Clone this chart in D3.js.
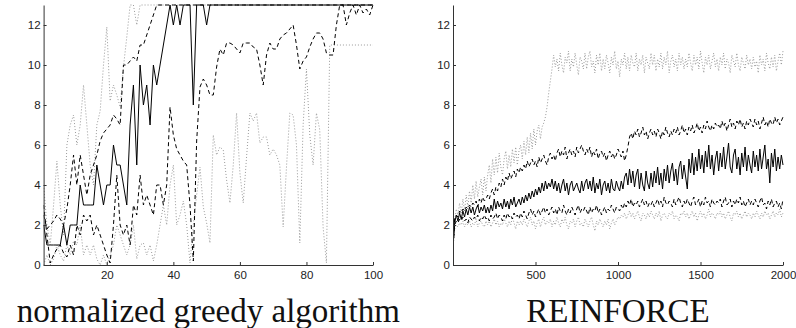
<!DOCTYPE html>
<html lang="en">
<head>
<meta charset="UTF-8">
<title>normalized greedy algorithm vs REINFORCE</title>
<style>
  body { margin: 0; background: #fff; }
  .axis text { font-family: "Liberation Sans", Arial, sans-serif; font-size: 11.5px; fill: #222; }
  .axis path, .axis line { stroke: #333; }
  .title { font-family: "Liberation Serif", "Times New Roman", serif; font-size: 33px; fill: #111; }
</style>
</head>
<body>
<svg width="796" height="328"></svg>
<script src="https://d3js.org/d3.v7.min.js"></script>
<script>
// ticks
var yTicks = [0, 2, 4, 6, 8, 10, 12];
var greedyTicks = [20, 40, 60, 80, 100];
var reinforceTicks = [500, 1000, 1500, 2000];

// left panel, one value per step 1..100
var greedySolid = [2,1,1,1,1,1,2,1,2,2, 2,4,3,3,3,3,5,4,3,4, 4,6,5,5,4,3,7,9,5,10,
  8,9,7,10,9,10,11,12,13,12, 13,12,13,13,13,8,13,13,13,12,
  13,13,13,13,13,13,13,13,13,13, 13,13,13,13,13,13,13,13,13,13,
  13,13,13,13,13,13,13,13,13,13, 13,13,13,13,13,13,13,13,13,13,
  13,13,13,13,13,13,13,13,13,13];
var greedyDashHi = [2.5,1.8,2,2.2,2.5,2.3,2,2.8,4,5.5, 4,5.5,4.5,3.5,4.5,5,5.5,6.2,6.6,6.8,
  7,7.5,7.3,7,10,10,10.2,10.4,10.2,11, 11,11.5,12,12.5,13,13,13,13,13,13,
  13,13,13,13,13,13,13,13,13,13, 13,13,13,13,13,13,13,13,13,13,
  13,13,13,13,13,13,13,13,13,13, 13,13,13,13,13,13,13,13,13,13,
  13,13,13,13,13,13,13,13,13,13, 13,13,13,13,13,13,13,13,13,13];
var greedyDashLo = [3,1.5,0.1,0.5,0.8,1,0.6,0.4,1,0.5, 2,1.5,2.5,2.2,2.5,1.5,2,1.5,1,0.5,
  0.1,2,4.5,2,1.5,2,1,3,2.5,4.5, 3,3.5,3,2.5,4,4,3,4,7.9,6.5,
  5.8,5.5,5.2,5,3,0.2,6.2,8.9,9.3,9, 8.5,8.5,9.9,10.8,10.5,11.1,11.1,11,10.8,10.6,
  11.1,11.1,11.1,10.9,10.8,10,9,10.5,11.1,10.8, 10.8,11.3,11.5,11.6,11.8,12,11,9.8,10.2,10.4,
  10.9,11.3,11.6,11.6,11.3,10.6,10.5,10.5,12,13, 13,12,12.6,13,12.5,13,12.6,12.8,12.5,13];
var greedyDotHi = [4,2,1,3,5.2,3,1.5,6,7,7.5, 6,7,9,7,5,4,7,7.7,10,11.9,
  8.2,9,8.5,7.9,9.9,11.4,13,13,12,13, 13,13,13,13,13,13,13,13,13,13,
  13,13,13,13,13,13,13,13,13,13, 13,13,13,13,13,13,13,13,13,13,
  13,13,13,13,13,13,13,13,13,13, 13,13,13,13,13,13,13,13,13,13,
  13,13,13,13,13,13,13,13,13,13, 13,13,13,13,13,13,13,13,13,13];
var greedyDotLo = [0,0.5,0,0.3,1,0.5,0.2,1,0.5,1.2, 1,2,0.5,1,0.5,1,0.3,0,0.5,0,
  0.5,1,2,1.5,1,0.5,1,2,0.3,1, 1.1,0.5,1,0.2,1,2,3,2,4,5,
  2,2.5,3.2,2,0.1,2,3.5,4.9,2.9,2.1, 1.1,6.5,5.5,5.9,5.75,4.25,3.1,5,7.6,4.6,
  3.1,5.4,7.6,7.2,7.6,6.1,6.4,6.4,5.5,5.8, 5.5,5,1.9,4.9,7.6,7.5,6,1.1,7,9.8,
  6.5,5,7.6,6.75,1.9,0.1,11,11,11,11, 11,11,11,11,11,11,11,11,11,11];

// right panel, first value at episode 1, then every 10 episodes
var reinforceStep = 10;
var reinforceDotHi = [1.2,
  2.2,2.8,2.5,3.1,2.6,3.3,2.7,3.5,2.9,3.7, 3.1,4.0,3.3,4.2,3.4,3.9,4.3,3.5,4.4,3.7,
  4.5,5.0,4.1,5.3,4.5,5.4,4.6,5.6,4.9,4.5, 5.3,5.7,4.8,5.5,4.9,5.8,5.1,5.9,5.0,5.7,
  6.0,5.3,6.2,5.5,6.4,5.6,6.6,5.8,6.8,6.0, 6.7,7.0,6.3,6.9,7.1,7.4,7.9,8.6,9.2,9.8,
  10.5,9.9,10.3,9.7,10.6,10.0,9.6,10.4,10.1,10.7, 9.7,10.3,9.9,10.6,10.0,9.5,10.4,10.2,9.8,10.6,
  9.8,10.4,10.7,9.9,10.2,9.6,10.5,10.0,10.6,9.7, 10.3,9.8,10.5,10.1,9.6,10.4,10.0,10.7,9.8,10.2,
  9.4,10.3,10.0,10.6,9.8,10.4,9.7,10.5,10.1,9.9, 10.6,9.7,10.3,10.0,10.5,9.6,10.4,10.1,9.8,10.6,
  10.0,10.5,9.7,10.3,9.9,10.6,9.8,10.4,10.0,10.7, 9.6,10.2,10.5,9.9,10.3,9.7,10.6,10.0,10.4,9.8,
  10.3,9.9,10.6,10.1,9.7,10.5,10.0,10.4,9.8,10.7, 10.1,9.6,10.4,10.0,10.5,9.8,10.2,10.6,9.9,10.3,
  9.7,10.4,10.0,10.6,9.8,10.3,10.1,9.6,10.5,10.2, 9.9,10.6,10.0,9.7,10.4,10.1,9.8,10.5,10.0,10.3,
  9.8,10.4,9.9,10.2,9.6,10.5,10.0,10.3,9.7,10.6, 10.1,9.8,10.4,9.9,10.5,9.7,10.2,10.6,10.0,10.7];
var reinforceDashHi = [1.1,
  2.3,2.5,2.4,2.7,2.6,2.8,2.7,2.9,2.8,3.0, 2.9,3.1,3.0,3.2,2.9,3.3,3.1,3.4,3.2,3.3,
  3.5,3.3,3.6,3.8,3.5,3.9,3.7,4.1,3.9,4.3, 4.0,4.4,4.2,4.6,4.3,4.5,4.7,4.4,4.8,4.6,
  4.9,4.7,5.0,4.8,5.2,4.9,5.1,5.3,5.0,5.2, 4.9,5.4,5.1,5.3,5.5,5.2,5.0,5.4,5.6,5.3,
  5.5,5.2,5.6,5.8,5.4,5.7,5.5,5.9,5.3,5.6, 5.8,5.5,5.7,5.4,5.9,5.6,5.8,6.0,5.7,5.5,
  5.8,5.6,5.9,5.4,5.7,5.5,5.8,5.3,5.6,5.7, 5.4,5.6,5.2,5.5,5.7,5.4,5.6,5.3,5.5,5.8,
  5.6,5.4,5.7,5.2,5.5,5.9,6.4,6.6,6.3,6.7, 6.5,6.8,6.4,6.6,6.9,6.5,6.7,6.3,6.6,6.8,
  6.5,6.7,6.4,6.8,6.6,6.3,6.7,6.5,6.9,6.6, 6.4,6.7,6.5,6.8,6.6,6.9,6.5,6.7,7.0,6.6,
  6.8,6.5,6.9,6.7,7.0,6.6,6.8,7.1,6.7,6.9, 6.6,7.0,6.8,7.2,6.9,6.7,7.0,6.8,7.1,6.9,
  7.0,6.8,7.2,6.9,7.1,6.7,7.0,7.3,6.9,7.1, 6.8,7.2,7.0,7.3,6.9,7.1,6.8,7.2,7.0,7.3,
  7.1,6.9,7.3,7.0,7.2,6.8,7.1,7.4,7.0,7.2, 6.9,7.3,7.1,7.0,7.4,7.1,7.3,7.0,7.2,7.4];
var reinforceSolid = [1.0,
  2.1,2.5,2.2,2.6,2.3,2.7,2.4,2.8,2.5,2.9, 2.6,2.9,2.5,2.8,3.0,2.6,2.9,2.7,3.0,2.6,
  2.9,2.6,3.0,2.7,3.3,2.8,3.2,2.9,3.1,2.8, 3.3,2.9,3.2,2.8,3.3,3.0,3.4,2.9,3.1,3.3,
  3.0,3.4,3.1,3.5,3.2,3.6,3.3,3.7,3.4,3.8, 3.5,3.9,3.6,4.1,3.7,4.2,3.8,4.1,3.9,4.3,
  3.8,4.2,3.7,4.1,3.6,4.0,4.3,3.7,4.1,3.5, 4.0,4.2,3.7,3.9,4.1,3.8,3.6,4.2,3.7,4.1,
  4.3,3.8,4.2,3.7,4.4,3.6,4.1,3.8,4.3,3.5, 4.0,4.2,3.7,4.1,3.6,4.3,3.8,3.7,4.2,3.9,
  3.7,4.2,3.8,4.4,4.6,4.0,4.8,4.1,4.7,3.9, 4.5,4.8,3.8,4.6,4.0,3.7,4.7,4.1,3.8,4.6,
  3.9,4.7,4.1,4.9,4.0,4.6,3.8,4.8,4.2,5.0, 4.1,4.7,5.1,4.2,4.8,4.0,4.9,5.2,4.3,5.0,
  4.4,3.8,5.3,4.6,5.6,4.5,5.4,4.7,5.8,4.8, 5.5,4.6,5.7,4.9,6.0,4.8,5.5,4.5,5.3,5.7,
  4.7,5.6,4.9,5.9,4.8,5.4,6.1,4.9,4.6,5.5, 5.8,4.8,5.4,4.5,5.6,4.9,5.9,4.7,5.5,5.0,
  4.6,5.7,4.9,5.5,4.7,5.8,4.8,5.4,6.0,4.8, 5.3,4.1,5.6,4.9,5.8,4.7,5.4,4.8,5.5,5.0];
var reinforceDashLo = [1.0,
  2.0,2.2,2.1,2.3,2.2,2.4,2.2,2.3,2.1,2.4, 2.3,2.2,2.4,2.3,2.5,2.2,2.4,2.3,2.5,2.3,
  2.4,2.2,2.5,2.3,2.4,2.6,2.3,2.5,2.4,2.2, 2.5,2.3,2.6,2.4,2.5,2.3,2.6,2.4,2.5,2.3,
  2.6,2.4,2.7,2.5,2.3,2.6,2.8,2.5,2.7,2.4, 2.6,2.8,2.5,2.7,2.9,2.6,2.8,2.5,2.7,2.9,
  2.6,2.8,2.5,2.9,2.7,2.6,3.0,2.7,2.5,2.8, 2.6,2.9,2.7,2.5,2.8,3.0,2.6,2.8,2.7,2.9,
  2.7,2.5,2.9,2.6,2.8,2.7,3.0,2.6,2.8,2.5, 2.7,2.9,2.6,2.8,2.7,3.0,2.8,2.6,2.9,2.8,
  2.7,3.0,2.8,3.1,2.9,3.2,3.0,3.3,2.9,3.1, 3.0,3.2,2.9,3.1,3.3,3.0,3.2,2.9,3.1,3.0,
  3.2,2.9,3.1,3.3,3.0,3.2,2.9,3.4,3.1,3.0, 3.2,3.1,2.9,3.3,3.0,3.2,3.4,3.1,2.9,3.2,
  3.0,3.3,3.1,2.9,3.2,3.4,3.0,3.1,3.3,2.9, 3.2,3.0,3.4,3.1,3.2,2.9,3.3,3.1,3.0,3.2,
  3.1,3.3,2.9,3.2,3.4,3.0,3.1,3.3,2.9,3.2, 3.0,3.3,3.1,3.4,3.0,3.2,2.9,3.1,3.3,3.0,
  3.2,3.0,3.3,3.1,2.9,3.2,3.4,3.0,3.1,2.8, 3.2,3.0,3.3,2.9,3.1,3.2,2.9,3.1,2.8,3.3];
var reinforceDotLo = [0.9,
  1.8,2.0,1.9,2.1,2.0,2.2,1.9,2.1,2.0,2.2, 1.9,2.1,2.0,2.3,1.9,2.1,2.2,2.0,1.9,2.2,
  2.0,2.2,1.9,2.1,2.3,2.0,2.2,1.9,2.1,2.0, 2.3,2.1,1.9,2.2,2.0,2.4,2.1,1.8,2.2,2.0,
  2.2,2.0,2.3,2.1,1.9,2.2,2.4,2.0,2.2,1.8, 2.1,2.3,1.9,2.2,2.4,2.0,2.2,2.1,2.3,1.9,
  2.2,2.0,2.4,2.1,1.9,2.3,2.1,2.4,2.0,1.8, 2.2,2.1,2.3,1.9,2.2,2.4,2.0,2.1,1.9,2.3,
  2.1,1.9,2.2,2.4,2.0,1.7,2.2,2.0,2.3,2.1, 1.9,2.2,2.0,2.3,1.8,2.1,2.3,2.0,2.2,2.4,
  2.3,2.5,2.4,2.6,2.3,2.5,2.7,2.4,2.6,2.3, 2.5,2.7,2.4,2.2,2.6,2.5,2.3,2.6,2.4,2.7,
  2.5,2.3,2.6,2.4,2.7,2.2,2.5,2.6,2.4,2.3, 2.6,2.5,2.7,2.3,2.5,2.4,2.2,2.6,2.5,2.7,
  2.4,2.6,2.3,2.5,2.7,2.4,2.6,2.2,2.5,2.7, 2.4,2.6,2.3,2.5,2.8,2.4,2.6,2.5,2.3,2.6,
  2.5,2.7,2.4,2.6,2.3,2.5,2.7,2.4,2.2,2.6, 2.5,2.7,2.4,2.6,2.3,2.5,2.7,2.4,2.6,2.5,
  2.3,2.6,2.4,2.7,2.5,2.3,2.6,2.4,2.7,2.5, 2.6,2.3,2.5,2.7,2.4,2.6,2.5,2.8,2.4,2.6];

var svg = d3.select("svg");
var plotTop = 5, plotBottom = 265;

var y = d3.scaleLinear().domain([0, 13]).range([plotBottom, plotTop]);

var styles = {
  dot:   { stroke: "#999", dash: "1,2" },
  dash:  { stroke: "#000", dash: "4,3" },
  solid: { stroke: "#000", dash: null }
};

function drawPanel(id, x, ticks, series, title) {
  var g = svg.append("g");
  var r = x.range();

  g.append("clipPath").attr("id", id)
    .append("rect")
    .attr("x", r[0]).attr("y", plotTop - 1)
    .attr("width", r[1] - r[0] + 1).attr("height", plotBottom - plotTop + 1);

  var line = d3.line()
    .x(function(d) { return x(d[0]); })
    .y(function(d) { return y(d[1]); });

  g.append("g").attr("clip-path", "url(#" + id + ")")
    .selectAll("path")
    .data(series)
    .enter().append("path")
      .attr("d", function(s) { return line(s.points); })
      .attr("fill", "none")
      .attr("stroke", function(s) { return styles[s.kind].stroke; })
      .attr("stroke-width", 1)
      .attr("stroke-dasharray", function(s) { return styles[s.kind].dash; });

  g.append("g")
    .attr("class", "axis")
    .attr("transform", "translate(0," + plotBottom + ")")
    .call(d3.axisBottom(x).tickValues(ticks).tickFormat(d3.format("d"))
      .tickSize(-3).tickSizeOuter(0).tickPadding(6));

  g.append("g")
    .attr("class", "axis")
    .attr("transform", "translate(" + r[0] + ",0)")
    .call(d3.axisLeft(y).tickValues(yTicks).tickFormat(d3.format("d"))
      .tickSize(-3).tickSizeOuter(0).tickPadding(3));

  g.append("text")
    .attr("class", "title")
    .attr("x", (r[0] + r[1]) / 2)
    .attr("y", 322)
    .attr("text-anchor", "middle")
    .text(title);
}

// left: steps 1..100
function greedyPoints(vals) {
  return vals.map(function(v, i) { return [i + 1, v]; });
}
var xLeft = d3.scaleLinear().domain([1, 100]).range([43.6, 373]);
drawPanel("clipL", xLeft, greedyTicks, [
  { kind: "dot", points: greedyPoints(greedyDotLo) },
  { kind: "dot", points: greedyPoints(greedyDotHi) },
  { kind: "dash", points: greedyPoints(greedyDashLo) },
  { kind: "dash", points: greedyPoints(greedyDashHi) },
  { kind: "solid", points: greedyPoints(greedySolid) }
], "normalized greedy algorithm");

// right: episode 1, then every reinforceStep episodes
function reinforcePoints(vals) {
  return vals.map(function(v, i) { return [i === 0 ? 1 : i * reinforceStep, v]; });
}
var xRight = d3.scaleLinear().domain([0, 2000]).range([453, 783]);
drawPanel("clipR", xRight, reinforceTicks, [
  { kind: "dot", points: reinforcePoints(reinforceDotLo) },
  { kind: "dot", points: reinforcePoints(reinforceDotHi) },
  { kind: "dash", points: reinforcePoints(reinforceDashLo) },
  { kind: "dash", points: reinforcePoints(reinforceDashHi) },
  { kind: "solid", points: reinforcePoints(reinforceSolid) }
], "REINFORCE");
</script>
</body>
</html>
